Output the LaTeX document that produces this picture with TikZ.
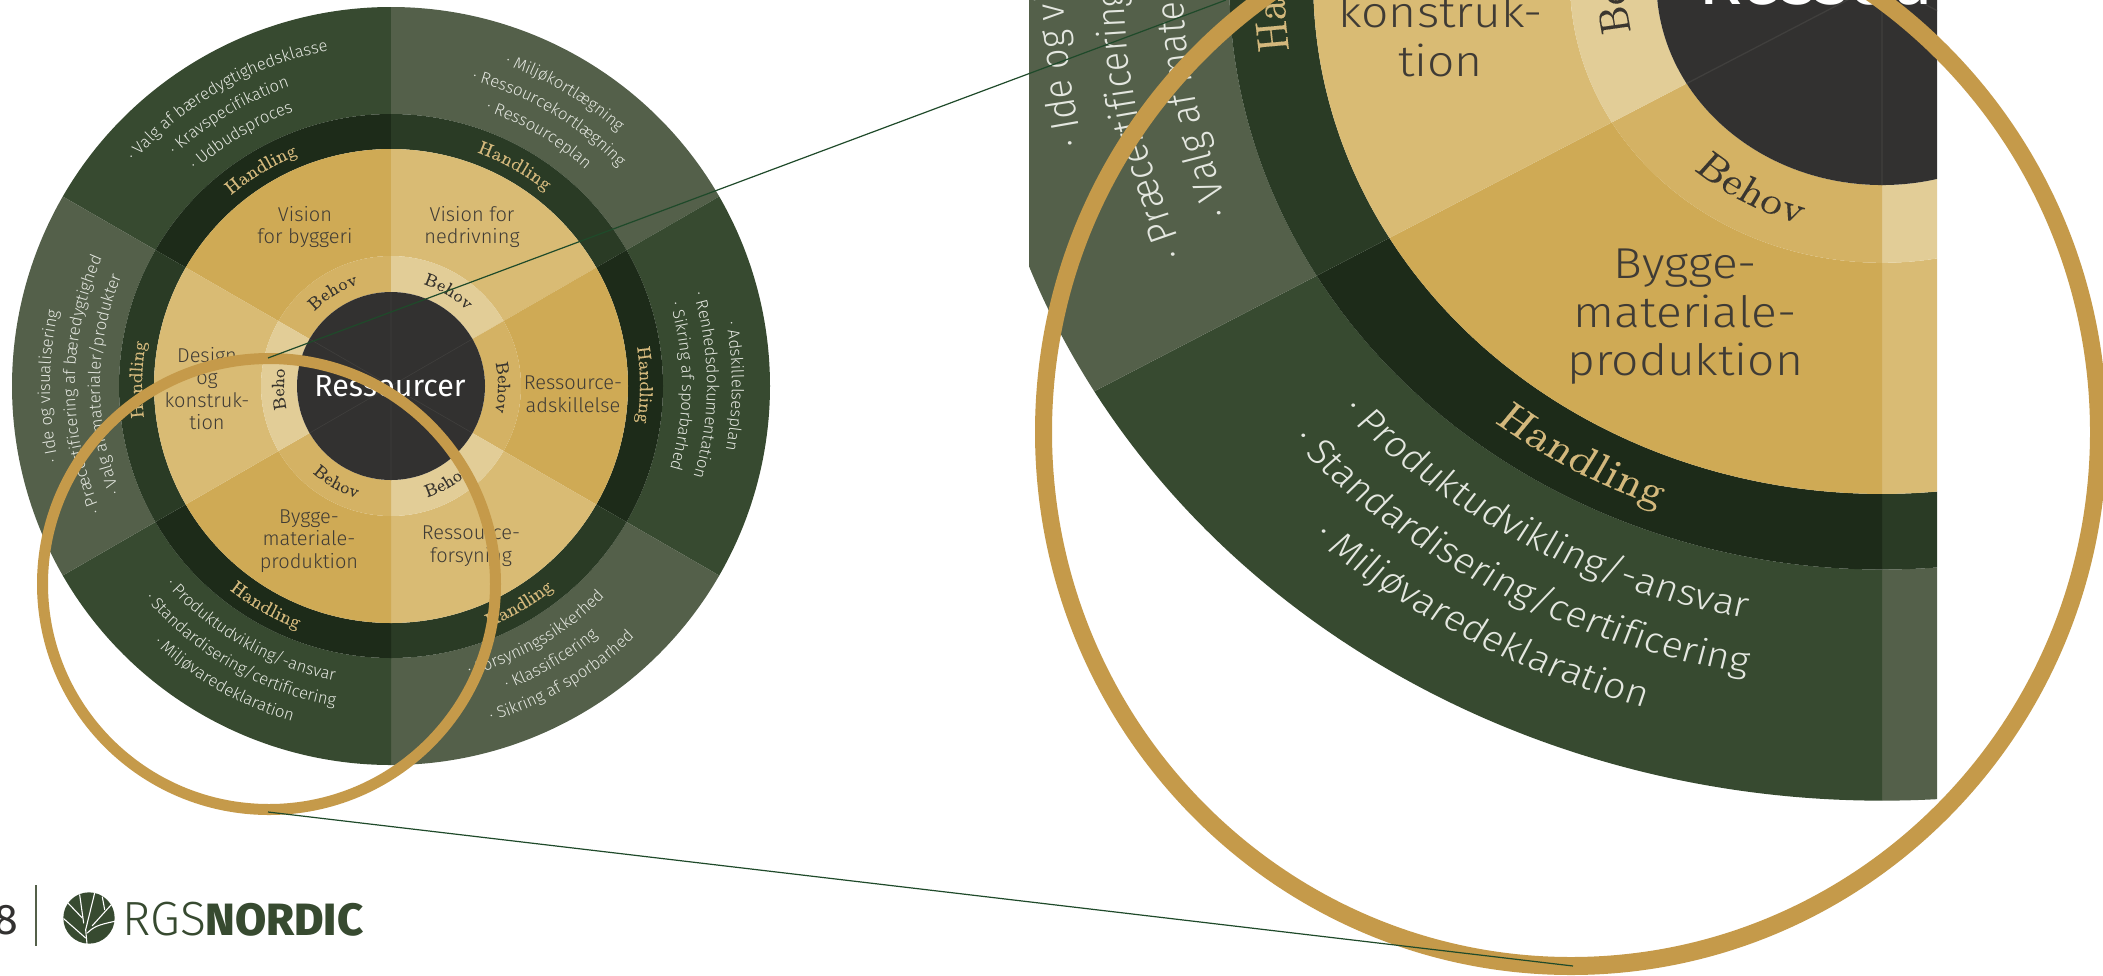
\documentclass[tikz,border=0pt]{standalone}
\usepackage{fontspec}
\usetikzlibrary{decorations.text}
\newfontfamily\firal{Fira Sans Light}
\newfontfamily\firar{Fira Sans}
\newfontfamily\firab{Fira Sans ExtraBold}
\newfontfamily\serifb[FakeBold=0.15]{Latin Modern Roman}
\definecolor{odark}{HTML}{374A30}
\definecolor{olight}{HTML}{54604A}
\definecolor{rdark}{HTML}{1D2B19}
\definecolor{rlight}{HTML}{2A3B25}
\definecolor{gdark}{HTML}{CFAA55}
\definecolor{glight}{HTML}{D9BB74}
\definecolor{bdark}{HTML}{D4B264}
\definecolor{blight}{HTML}{E2CD97}
\definecolor{disc}{HTML}{323130}
\definecolor{seam}{HTML}{403F3D}
\definecolor{hoop}{HTML}{C59A4A}
\definecolor{otxt}{HTML}{E4E7E0}
\definecolor{ltxt}{HTML}{3F3B35}
\definecolor{htxt}{HTML}{D3B87C}
\definecolor{btxt}{HTML}{3A362F}
\definecolor{wire}{HTML}{1F4A2A}
\newcommand{\wsect}[5]{\fill[#5] (#3:#2) arc[start angle=#3,end angle=#4,radius=#2] -- (#4:#1) arc[start angle=#4,end angle=#3,radius=#1] -- cycle;}
\newcommand{\arcline}[5]{\path[decorate,decoration={text along path,text align=fit to path,text={|#4|#5}}] (#2:#1) arc[start angle=#2,end angle=#3,radius=#1];}
\newcommand{\listline}[5]{\path[decorate,decoration={text along path,text align=center,text={|#4|#5}}] ({#2+(#2-(#3))*.25}:#1) arc[start angle={#2+(#2-(#3))*.25},end angle={#3-(#2-(#3))*.25},radius=#1];}
\newcommand{\ofmt}{\firal\fontsize{8.3}{10}\selectfont\color{otxt}}
\newcommand{\hfmt}{\serifb\fontsize{9.3}{10}\selectfont\color{htxt}}
\newcommand{\bfmt}{\serifb\fontsize{8.8}{10}\selectfont\color{btxt}}
\newcommand{\wheelbody}[1]{%
  \wsect{272}{379}{90}{150}{odark}\wsect{272}{379}{30}{90}{olight}\wsect{272}{379}{-30}{30}{odark}
  \wsect{272}{379}{-90}{-30}{olight}\wsect{272}{379}{-150}{-90}{odark}\wsect{272}{379}{150}{210}{olight}
  \wsect{237}{272}{90}{150}{rdark}\wsect{237}{272}{30}{90}{rlight}\wsect{237}{272}{-30}{30}{rdark}
  \wsect{237}{272}{-90}{-30}{rlight}\wsect{237}{272}{-150}{-90}{rdark}\wsect{237}{272}{150}{210}{rlight}
  \wsect{130}{237}{90}{150}{gdark}\wsect{130}{237}{30}{90}{glight}\wsect{130}{237}{-30}{30}{gdark}
  \wsect{130}{237}{-90}{-30}{glight}\wsect{130}{237}{-150}{-90}{gdark}\wsect{130}{237}{150}{210}{glight}
  \wsect{94}{130}{90}{150}{bdark}\wsect{94}{130}{30}{90}{blight}\wsect{94}{130}{-30}{30}{bdark}
  \wsect{94}{130}{-90}{-30}{blight}\wsect{94}{130}{-150}{-90}{bdark}\wsect{94}{130}{150}{210}{blight}
  \fill[disc] (0,0) circle[radius=94];
  \draw[seam,line width=.3pt] (0,94) -- (0,-94) (30:94) -- (210:94) (150:94) -- (-30:94);
  % outer lists
  \listline{341}{139}{100.5}{\ofmt}{· Valg af bæredygtighedsklasse}
  \listline{316}{133}{108.8}{\ofmt}{· Kravspecifikation}
  \listline{291}{132}{109.7}{\ofmt}{· Udbudsproces}
  \listline{341}{70.7}{48}{\ofmt}{· Miljøkortlægning}
  \listline{316}{75}{44}{\ofmt}{· Ressourcekortlægning}
  \listline{291}{71}{48}{\ofmt}{· Ressourceplan}
  \listline{341}{10.7}{-10.8}{\ofmt}{· Adskillelsesplan}
  \listline{316}{16.9}{-16.7}{\ofmt}{· Renhedsdokumentation}
  \listline{291}{16.3}{-16.5}{\ofmt}{· Sikring af sporbarhed}
  \listline{341}{192.7}{167.4}{\ofmt}{· Ide og visualisering}
  \listline{316}{203.4}{156.2}{\ofmt}{· Præcertificering af bæredygtighed}
  \listline{291}{201.4}{158}{\ofmt}{· Valg af materialer/produkter}
  \listline{300}{221.7}{258.8}{\ofmt}{· Produktudvikling/-ansvar}
  \listline{325}{221}{259.8}{\ofmt}{· Standardisering/certificering}
  \listline{350}{227.6}{253.3}{\ofmt}{· Miljøvaredeklaration}
  \listline{300}{285.2}{315.4}{\ofmt}{· Forsyningssikkerhed}
  \listline{325}{291}{309.5}{\ofmt}{· Klassificering}
  \listline{350}{286.6}{314.2}{\ofmt}{· Sikring af sporbarhed}
  % Handling
  \arcline{249}{130}{112}{\hfmt}{Handling}
  \arcline{249}{69.8}{51.5}{\hfmt}{Handling}
  \arcline{249}{9}{-8.3}{\hfmt}{Handling}
  \arcline{249}{187.3}{170}{\hfmt}{Handling}
  \arcline{260}{231.6}{249}{\hfmt}{Handling}
  \arcline{260}{292}{308.5}{\hfmt}{Handling}
  % Behov
  \arcline{107}{135.7}{107.8}{\bfmt}{Behov}
  \arcline{107}{72.5}{45}{\bfmt}{Behov}
  \arcline{107}{12.5}{-13.4}{\bfmt}{Behov}
  \arcline{107}{192.4}{170}{\bfmt}{Behov}
  \arcline{117}{227.9}{253}{\bfmt}{Behov}
  \arcline{117}{288}{313}{\bfmt}{Behov}
  % sector labels
  \node[seclabel] (#1vb) at (-86,159) {Vision\\for byggeri};
  \node[seclabel] (#1vn) at (81,159) {Vision for\\nedrivning};
  \node[seclabel] (#1ra) at (182,-8) {Ressource-\\adskillelse};
  \node[seclabel] (#1rf) at (80,-160) {Ressource-\\forsyning};
  \node[seclabel] (#1bp) at (-82,-155) {Bygge-\\materiale-\\produktion};
  \node[seclabel] (#1dk) at (-184,-2.5) {Design\\og\\konstruk-\\tion};
  \node[centerlabel] (#1res) at (-1,0) {Ressourcer};
}
\tikzset{
  seclabel/.style={align=center,inner sep=0pt,text=ltxt,font=\firal\fontsize{10}{11.3}\selectfont},
  centerlabel/.style={inner sep=0pt,text=white,font=\firar\fontsize{15.2}{17}\selectfont},
  wireline/.style={wire,line width=.6pt},
  vein/.style={white,line width=.55pt,line cap=round,line join=round},
}
\begin{document}
\begin{tikzpicture}[x=.5pt,y=.5pt]
\useasboundingbox (0,0) rectangle (2103,-975);
\fill[white] (0,0) rectangle (2103,-975);
% left wheel
\begin{scope}[shift={(391,-386)}]
  \wheelbody{L}
\end{scope}
% magnifying hoop on the left wheel
\fill[hoop,even odd rule] (269,-584) circle[x radius=232,y radius=231] (269,-584) circle[x radius=221,y radius=220];
% enlarged wheel
\begin{scope}
  \clip (1029,0) rectangle (1937,-975);
  \begin{scope}[transform canvas={shift={(1882,18)},xscale=2.4,yscale=2.16}]
    \wheelbody{R}
  \end{scope}
\end{scope}
% enlarged hoop
\fill[hoop,even odd rule] (1571,-432) circle[x radius=536,y radius=543] (1571,-432) circle[x radius=519,y radius=525];
% connectors
\coordinate (c1) at (268,-358);
\coordinate (c2) at (1226,0);
\coordinate (c3) at (268,-812);
\coordinate (c4) at (1573,-966);
\draw[wireline] (c1) -- (c2);
\draw[wireline] (c3) -- (c4);
% footer
\node[anchor=east,inner sep=0pt,text=disc,font=\firar\fontsize{21.5}{24}\selectfont] (pg) at (19,-920) {8};
\coordinate (s1) at (36,-885);
\coordinate (s2) at (36,-946);
\draw[olight,line width=.6pt] (s1) -- (s2);
\begin{scope}[shift={(89,-918)},x=.1667pt,y=-.1667pt]
  \fill[odark] (0,0) circle[radius=77];
  \draw[vein] (-6,77) -- (-10,35) -- (17,-75);
  \draw[vein] (-16,15) -- (-28,-70);
  \draw[vein] (-20,0) -- (-63,-45);
  \draw[vein] (-10,60) -- (-76,2);
  \draw[vein] (-5,45) .. controls (15,25) and (30,20) .. (77,10);
  \draw[vein] (10,23) -- (67,-40);
  \draw[vein] (47,-25) -- (40,-63);
\end{scope}
\node[anchor=base west,inner sep=0pt,text=odark,font=\firal\fontsize{24}{26}\selectfont] (rgs) at (122,-935) {RGS};
\node[anchor=base west,inner sep=0pt,text=odark,font=\firab\fontsize{22.6}{26}\selectfont] (nordic) at (205,-935) {NORDIC};
\end{tikzpicture}
\end{document}
